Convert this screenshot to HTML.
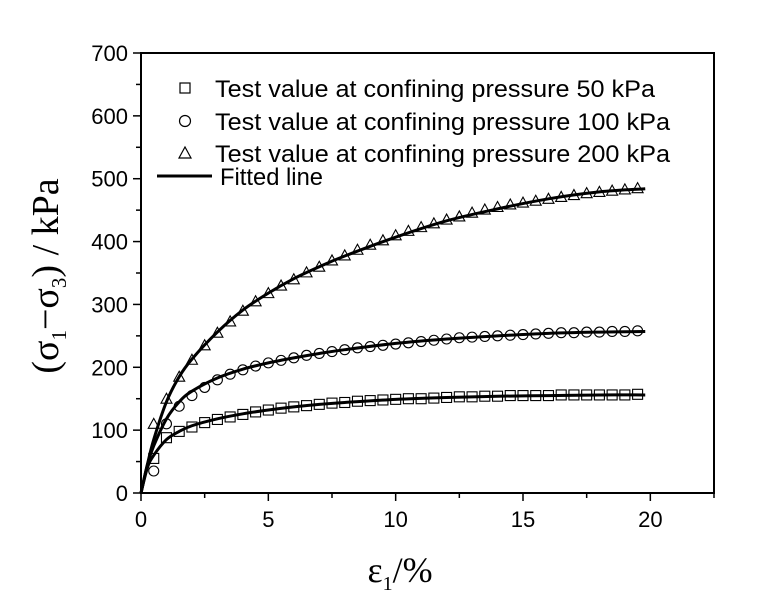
<!DOCTYPE html>
<html><head><meta charset="utf-8"><style>
html,body{margin:0;padding:0;background:#fff;}
svg{display:block;}
text{font-family:"Liberation Sans",sans-serif;fill:#000;}
.serif{font-family:"Liberation Serif",serif;}
</style></head><body>
<svg id="chart" width="759" height="610" viewBox="0 0 759 610">
<g id="marks"></g>
<g id="axes"></g>
<g>
  <rect x="180" y="83" width="10" height="10" fill="none" stroke="#000" stroke-width="1.2"/>
  <text x="215" y="97" font-size="24" textLength="440" lengthAdjust="spacingAndGlyphs">Test value at confining pressure 50 kPa</text>
  <circle cx="185" cy="121" r="5.5" fill="none" stroke="#000" stroke-width="1.2"/>
  <text x="215" y="130" font-size="24" textLength="455" lengthAdjust="spacingAndGlyphs">Test value at confining pressure 100 kPa</text>
  <path d="M179,158 L185,147 L191,158 Z" fill="none" stroke="#000" stroke-width="1.2"/>
  <text x="215" y="162" font-size="24" textLength="455" lengthAdjust="spacingAndGlyphs">Test value at confining pressure 200 kPa</text>
  <line x1="157" y1="176" x2="212" y2="176" stroke="#000" stroke-width="3"/>
  <text x="220" y="185" font-size="24" textLength="103" lengthAdjust="spacingAndGlyphs">Fitted line</text>
</g>
<text class="serif" transform="translate(58,276) rotate(-90)" text-anchor="middle" font-size="38">(σ<tspan font-size="21" dy="8">1</tspan><tspan dy="-8">−σ</tspan><tspan font-size="21" dy="8">3</tspan><tspan dy="-8">) / kPa</tspan></text>
<text class="serif" x="400" y="582" text-anchor="middle" font-size="36">ε<tspan font-size="20" dy="8">1</tspan><tspan dy="-8">/%</tspan></text>
</svg>
<script>
const xs = [0.5,1,1.5,2,2.5,3,3.5,4,4.5,5,5.5,6,6.5,7,7.5,8,8.5,9,9.5,10,10.5,11,11.5,12,12.5,13,13.5,14,14.5,15,15.5,16,16.5,17,17.5,18,18.5,19,19.5];
const test200 = [110,150,185,212,235,255,273,290,305,318,330,340,351,360,370,378,387,395,402,410,417,423,429,435,440,446,451,455,459,462,465,468,471,474,477,479,481,483,485];
const test100 = [35,110,138,155,168,180,189,196,202,207,211,215,219,222,225,228,231,233,235,237,239,241,243,245,247,248,249,250,251,252,253,254,255,255,256,256,257,257,258];
const test50 = [55,88,98,105,112,117,121,125,129,132,135,137,139,141,143,144,146,147,148,149,150,150,151,152,153,153,154,154,155,155,155,155,156,156,156,156,156,156,157];
const fitX = [0,0.25,0.5,1,1.5,2,3,4,5,6,7,8,10,12,14,16,18,19.8];
const fit200 = [0,45,85,145,185,213,256,291,318,341,360,377,407,433,452,468,479,484];
const fit100 = [0,45,75,118,145,162,183,197,207,215,222,228,238,245,250,254,256,257];
const fit50 = [0,40,60,85,98,107,118,126,132,137,141,144,149,152,154,155,156,156];
const xTicks = [0,5,10,15,20];
const yTicks = [0,100,200,300,400,500,600,700];

const L=141,R=714,T=53,B=493,XMAX=22.5,YMAX=700;
const X=v=>L+v/XMAX*(R-L);
const Y=v=>B-v/YMAX*(B-T);
const NS='http://www.w3.org/2000/svg';
const marks=document.getElementById('marks'), axes=document.getElementById('axes');
function mk(tag,attrs,parent){const e=document.createElementNS(NS,tag);for(const k in attrs)e.setAttribute(k,attrs[k]);parent.appendChild(e);return e;}

function smooth(xa,ya){
  const p=xa.map((x,i)=>[X(x),Y(ya[i])]);
  let d='M'+p[0][0]+','+p[0][1];
  for(let i=0;i<p.length-1;i++){
    const p0=p[i-1]||p[i],p1=p[i],p2=p[i+1],p3=p[i+2]||p2;
    const c1=[p1[0]+(p2[0]-p0[0])/6,p1[1]+(p2[1]-p0[1])/6];
    const c2=[p2[0]-(p3[0]-p1[0])/6,p2[1]-(p3[1]-p1[1])/6];
    d+=` C${c1[0]},${c1[1]} ${c2[0]},${c2[1]} ${p2[0]},${p2[1]}`;
  }
  return d;
}
[['fit-line-50kpa',fit50],['fit-line-100kpa',fit100],['fit-line-200kpa',fit200]].forEach(([n,arr])=>{
  const el=mk('path',{d:smooth(fitX,arr),fill:'none',stroke:'#000','stroke-width':3},marks);
  
  
});
xs.forEach((x,i)=>{
  const cx=X(x);
  let s=mk('rect',{x:cx-5,y:Y(test50[i])-5,width:10,height:10,fill:'none',stroke:'#000','stroke-width':1.1},marks);
  
  
  let c=mk('circle',{cx:cx,cy:Y(test100[i]),r:5,fill:'none',stroke:'#000','stroke-width':1.1},marks);
  
  
  const ty=Y(test200[i]);
  let t=mk('path',{d:`M${cx-5.5},${ty+4.5} L${cx},${ty-5.5} L${cx+5.5},${ty+4.5} Z`,fill:'none',stroke:'#000','stroke-width':1.1},marks);
  
  
});
const frame=mk('rect',{x:L,y:T,width:R-L,height:B-T,fill:'none',stroke:'#000','stroke-width':2},axes);


for(let v=0;v<=22.5;v+=2.5){
  const major=v%5===0;
  const tk=mk('line',{x1:X(v),x2:X(v),y1:B,y2:B+(major?8:5),stroke:'#000','stroke-width':1.5},axes);
  
  
}
for(let v=0;v<=700;v+=50){
  const major=v%100===0;
  const tk=mk('line',{x1:L,x2:L-(major?8:5),y1:Y(v),y2:Y(v),stroke:'#000','stroke-width':1.5},axes);
  
  
}
xTicks.forEach(v=>{
  const t=mk('text',{x:X(v),y:B+34,'text-anchor':'middle','font-size':22},axes);t.textContent=v;
  
  
});
yTicks.forEach(v=>{
  const t=mk('text',{x:L-13,y:Y(v)+8,'text-anchor':'end','font-size':22},axes);t.textContent=v;
  
  
});
</script>
</body></html>
